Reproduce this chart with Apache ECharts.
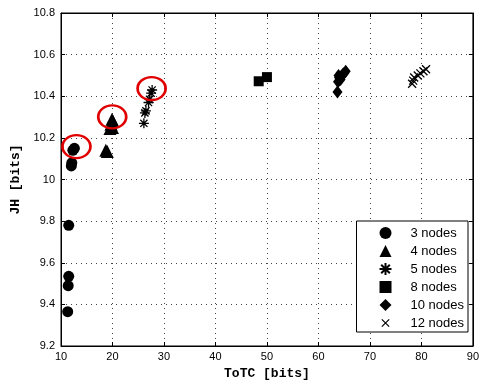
<!DOCTYPE html>
<html><head><meta charset="utf-8">
<script src="https://cdn.jsdelivr.net/npm/echarts@6/dist/echarts.min.js"></script>
<style>html,body{margin:0;padding:0;background:#fff}#c{width:482px;height:385px}</style>
</head><body><div id="c"></div>
<script>
var nodes3 = [[12.6,10.15],[12.3,10.14],[12.1,10.08],[12.0,10.065],[11.5,9.78],[11.5,9.535],[11.4,9.49],[11.3,9.365]];
var nodes4 = [[18.7,10.14],[19.0,10.135],[19.9,10.29],[20.1,10.28],[19.7,10.265],[20.0,10.25],[19.5,10.245]];
var nodes5 = [[26.1,10.27],[26.3,10.32],[26.5,10.33],[27.2,10.385],[27.0,10.37],[27.5,10.415],[27.7,10.43]];
var nodes8 = [[48.4,10.472],[50.0,10.492]];
var nodes10 = [[63.7,10.42],[63.8,10.47],[64.0,10.49],[63.9,10.50],[64.4,10.495],[64.7,10.505],[65.0,10.51],[65.3,10.52],[64.3,10.48]];
var nodes12 = [[78.2,10.46],[78.4,10.475],[78.6,10.49],[79.3,10.5],[79.8,10.51],[80.4,10.52],[80.9,10.53]];
var highlights = [[13.0,10.158],[19.95,10.301],[27.6,10.437]];
var seriesNames = ['3 nodes','4 nodes','5 nodes','8 nodes','10 nodes','12 nodes'];
var xTicks = {min:10,max:90,interval:10};
var yTicks = {min:9.2,max:10.8,interval:0.2};

var starPath = 'path://M0,-5L0,5M-5,0L5,0M-3.6,-3.6L3.6,3.6M-3.6,3.6L3.6,-3.6';
var crossPath = 'path://M-4,-4L4,4M-4,4L4,-4';
var crossLegend = 'path://M-6.5,-6.5M-4,-4L4,4M-4,4L4,-4M6.5,6.5';
var chart = echarts.init(document.getElementById('c'));
var gridLine = {show:true,lineStyle:{color:'#444',width:1,type:[1,4]}};
var fontTick = {color:'#000',fontFamily:'Liberation Sans, Arial',fontSize:11};
function mk(name,data,symbol,size,stroke){
  return {name:name,type:'scatter',data:data,symbol:symbol,symbolSize:size,
    itemStyle: stroke ? {color:'rgba(0,0,0,0)',borderColor:'#000',borderWidth:1.3,opacity:1}
                      : {color:'#000',opacity:1},
    emphasis:{disabled:true},z:3};
}
chart.setOption({
  animation:false,
  grid:{left:61,right:7,top:13,bottom:37,show:true,borderColor:'#000',borderWidth:1,backgroundColor:'#fff'},
  xAxis:[{type:'value',min:xTicks.min,max:xTicks.max,interval:xTicks.interval,
    name:'ToTC [bits]',nameLocation:'middle',nameGap:21,
    nameTextStyle:{fontFamily:'Liberation Mono, Courier New, monospace',fontWeight:'bold',fontSize:13,color:'#000'},
    axisLine:{show:true,lineStyle:{color:'#000'}},axisTick:{show:true,inside:true,length:4,lineStyle:{color:'#000'}},
    axisLabel:Object.assign({margin:5},fontTick),splitLine:gridLine},
   {type:'value',position:'top',min:xTicks.min,max:xTicks.max,interval:xTicks.interval,
    axisLine:{show:true,lineStyle:{color:'#000'}},axisTick:{show:true,inside:true,length:4,lineStyle:{color:'#000'}},
    axisLabel:{show:false},splitLine:{show:false}}],
  yAxis:[{type:'value',min:yTicks.min,max:yTicks.max,interval:yTicks.interval,
    name:'JH [bits]',nameLocation:'middle',nameGap:35,
    nameTextStyle:{fontFamily:'Liberation Mono, Courier New, monospace',fontWeight:'bold',fontSize:13,color:'#000'},
    axisLine:{show:true,lineStyle:{color:'#000'}},axisTick:{show:true,inside:true,length:4,lineStyle:{color:'#000'}},
    axisLabel:Object.assign({margin:6,formatter:function(v){return String(+v.toFixed(1));}},fontTick),splitLine:gridLine},
   {type:'value',position:'right',min:yTicks.min,max:yTicks.max,interval:yTicks.interval,
    axisLine:{show:true,lineStyle:{color:'#000'}},axisTick:{show:true,inside:true,length:4,lineStyle:{color:'#000'}},
    axisLabel:{show:false},splitLine:{show:false}}],
  legend:{data:seriesNames.map(function(n,i){return i===5?{name:n,icon:crossLegend,itemStyle:{borderWidth:1.2}}:{name:n};}),
    orient:'vertical',right:14,bottom:53,
    backgroundColor:'#fff',borderColor:'#000',borderWidth:1,padding:[5,4,2,22],
    itemGap:4,itemWidth:12,itemHeight:12,
    textStyle:{fontFamily:'Liberation Sans, Arial',fontSize:13,lineHeight:14,color:'#000',padding:[0,0,0,14]}},
  series:[
    mk(seriesNames[0],nodes3,'circle',11,false),
    mk(seriesNames[1],nodes4,'triangle',13,false),
    mk(seriesNames[2],nodes5,starPath,10,true),
    mk(seriesNames[3],nodes8,'rect',10,false),
    mk(seriesNames[4],nodes10,'diamond',[10,13],false),
    mk(seriesNames[5],nodes12,crossPath,8,true),
    {name:'highlight',type:'scatter',data:highlights,symbol:'circle',symbolSize:[28,23],
     itemStyle:{color:'rgba(0,0,0,0)',borderColor:'#e00000',borderWidth:2.5,opacity:1},
     emphasis:{disabled:true},z:4}
  ]
});
</script></body></html>
